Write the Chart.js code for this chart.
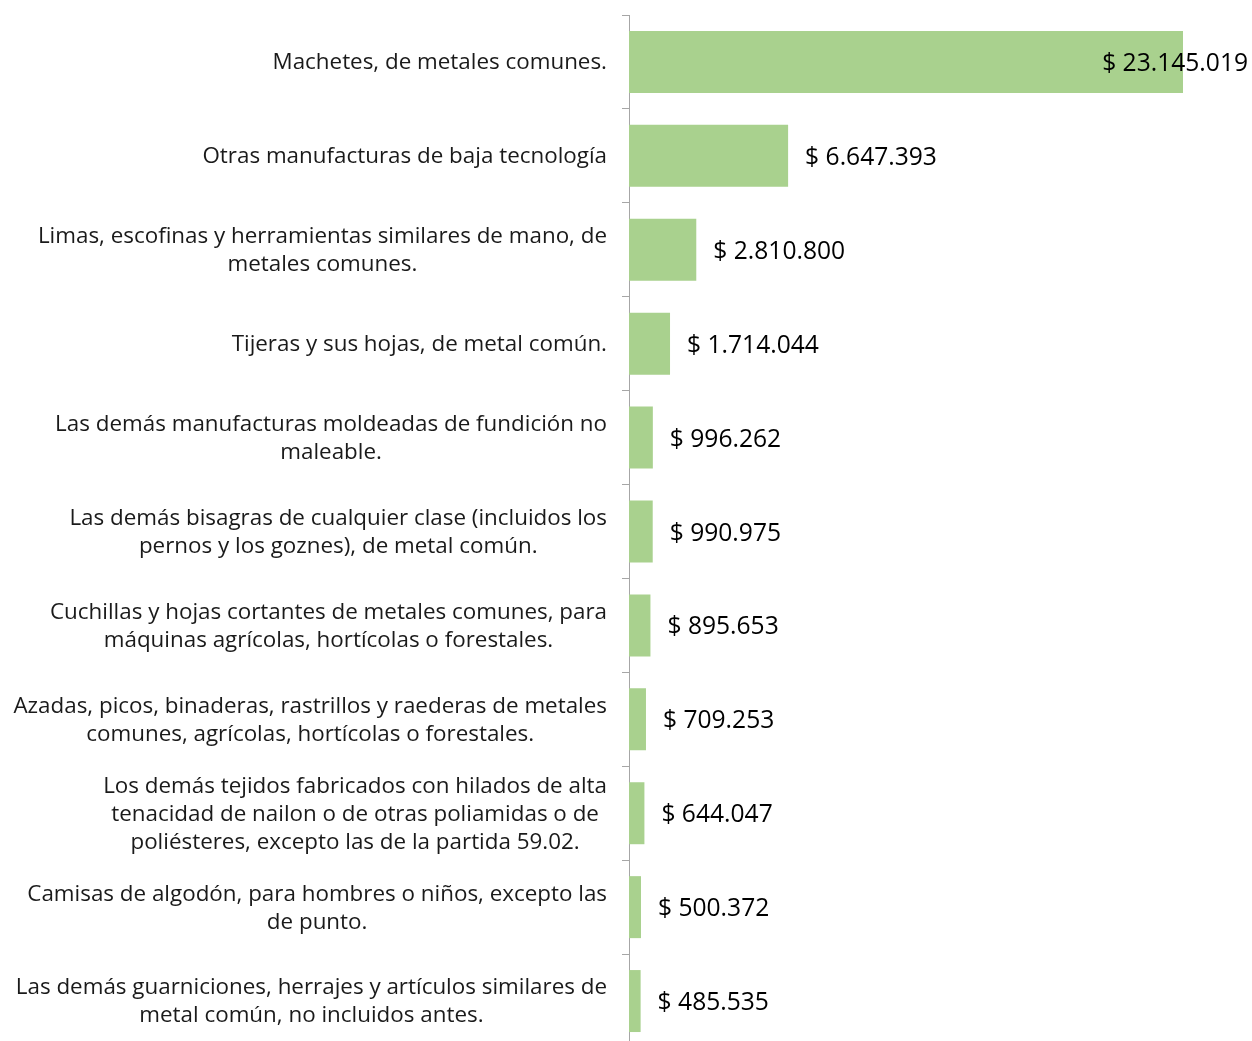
<!DOCTYPE html>
<html>
<head>
<meta charset="utf-8">
<script src="https://cdn.jsdelivr.net/npm/chart.js@4/dist/chart.umd.min.js"></script>
<style>
  html, body { margin: 0; padding: 0; overflow: hidden; background: #fff; }
  #wrap { width: 1252px; height: 1049px; }
</style>
</head>
<body>
<div id="wrap"><canvas id="c" width="1252" height="1049"></canvas></div>
<script>
const categories = [
  ["Machetes, de metales comunes."],
  ["Otras manufacturas de baja tecnología"],
  ["Limas, escofinas y herramientas similares de mano, de", "metales comunes."],
  ["Tijeras y sus hojas, de metal común."],
  ["Las demás manufacturas moldeadas de fundición no", "maleable."],
  ["Las demás bisagras de cualquier clase (incluidos los", "pernos y los goznes), de metal común."],
  ["Cuchillas y hojas cortantes de metales comunes, para", "máquinas agrícolas, hortícolas o forestales."],
  ["Azadas, picos, binaderas, rastrillos y raederas de metales", "comunes, agrícolas, hortícolas o forestales."],
  ["Los demás tejidos fabricados con hilados de alta", "tenacidad de nailon o de otras poliamidas o de", "poliésteres, excepto las de la partida 59.02."],
  ["Camisas de algodón, para hombres o niños, excepto las", "de punto."],
  ["Las demás guarniciones, herrajes y artículos similares de", "metal común, no incluidos antes."]
];
const values = [23145019, 6647393, 2810800, 1714044, 996262, 990975, 895653, 709253, 644047, 500372, 485535];

function fmt(v) {
  return "$ " + String(v).replace(/\B(?=(\d{3})+(?!\d))/g, ".");
}

const FONT = '"Open Sans", "Noto Sans", sans-serif';

const labelPlugin = {
  id: 'customLabels',
  afterDatasetsDraw(chart) {
    const ctx = chart.ctx;
    const ys = chart.scales.y;
    const meta = chart.getDatasetMeta(0);
    ctx.save();
    // category labels
    ctx.font = '22.4px ' + FONT;
    ctx.fillStyle = '#1a1a1a';
    ctx.textBaseline = 'middle';
    ctx.textAlign = 'center';
    const rightEdge = chart.chartArea.left - 22;
    const lh = 28;
    categories.forEach((lines, i) => {
      const cy = ys.getPixelForValue(i) + 1;
      let w = 0;
      lines.forEach(l => { w = Math.max(w, ctx.measureText(l).width); });
      const cx = rightEdge - w / 2;
      const y0 = cy - (lines.length - 1) * lh / 2;
      lines.forEach((l, k) => ctx.fillText(l, cx, y0 + k * lh));
    });
    // value labels
    ctx.font = '24.6px ' + FONT;
    ctx.fillStyle = '#000';
    ctx.textAlign = 'left';
    meta.data.forEach((bar, i) => {
      const t = fmt(values[i]);
      const w = ctx.measureText(t).width;
      let x = bar.x + 17;
      if (x + w > chart.width - 4) x = chart.width - 4 - w;
      ctx.fillText(t, x, bar.y + 2);
    });
    ctx.restore();
  }
};

new Chart(document.getElementById('c'), {
  type: 'bar',
  data: {
    labels: categories,
    datasets: [{
      data: values,
      backgroundColor: '#A9D18E',
      borderWidth: 0,
      barPercentage: 0.66,
      categoryPercentage: 1.0
    }]
  },
  options: {
    indexAxis: 'y',
    responsive: false,
    animation: false,
    devicePixelRatio: 1,
    layout: { padding: { top: 15, right: 69, bottom: 1, left: 0 } },
    plugins: { legend: { display: false }, tooltip: { enabled: false } },
    scales: {
      x: { display: false, min: 0, max: 23145019 },
      y: {
        offset: true,
        afterFit(s) { s.width = 629; },
        ticks: { display: false },
        grid: { display: true, drawOnChartArea: false, drawTicks: true, tickLength: 7, color: '#A6A6A6', lineWidth: 1, offset: true },
        border: { display: true, color: '#A6A6A6', width: 1 }
      }
    }
  },
  plugins: [labelPlugin]
});
</script>
</body>
</html>
